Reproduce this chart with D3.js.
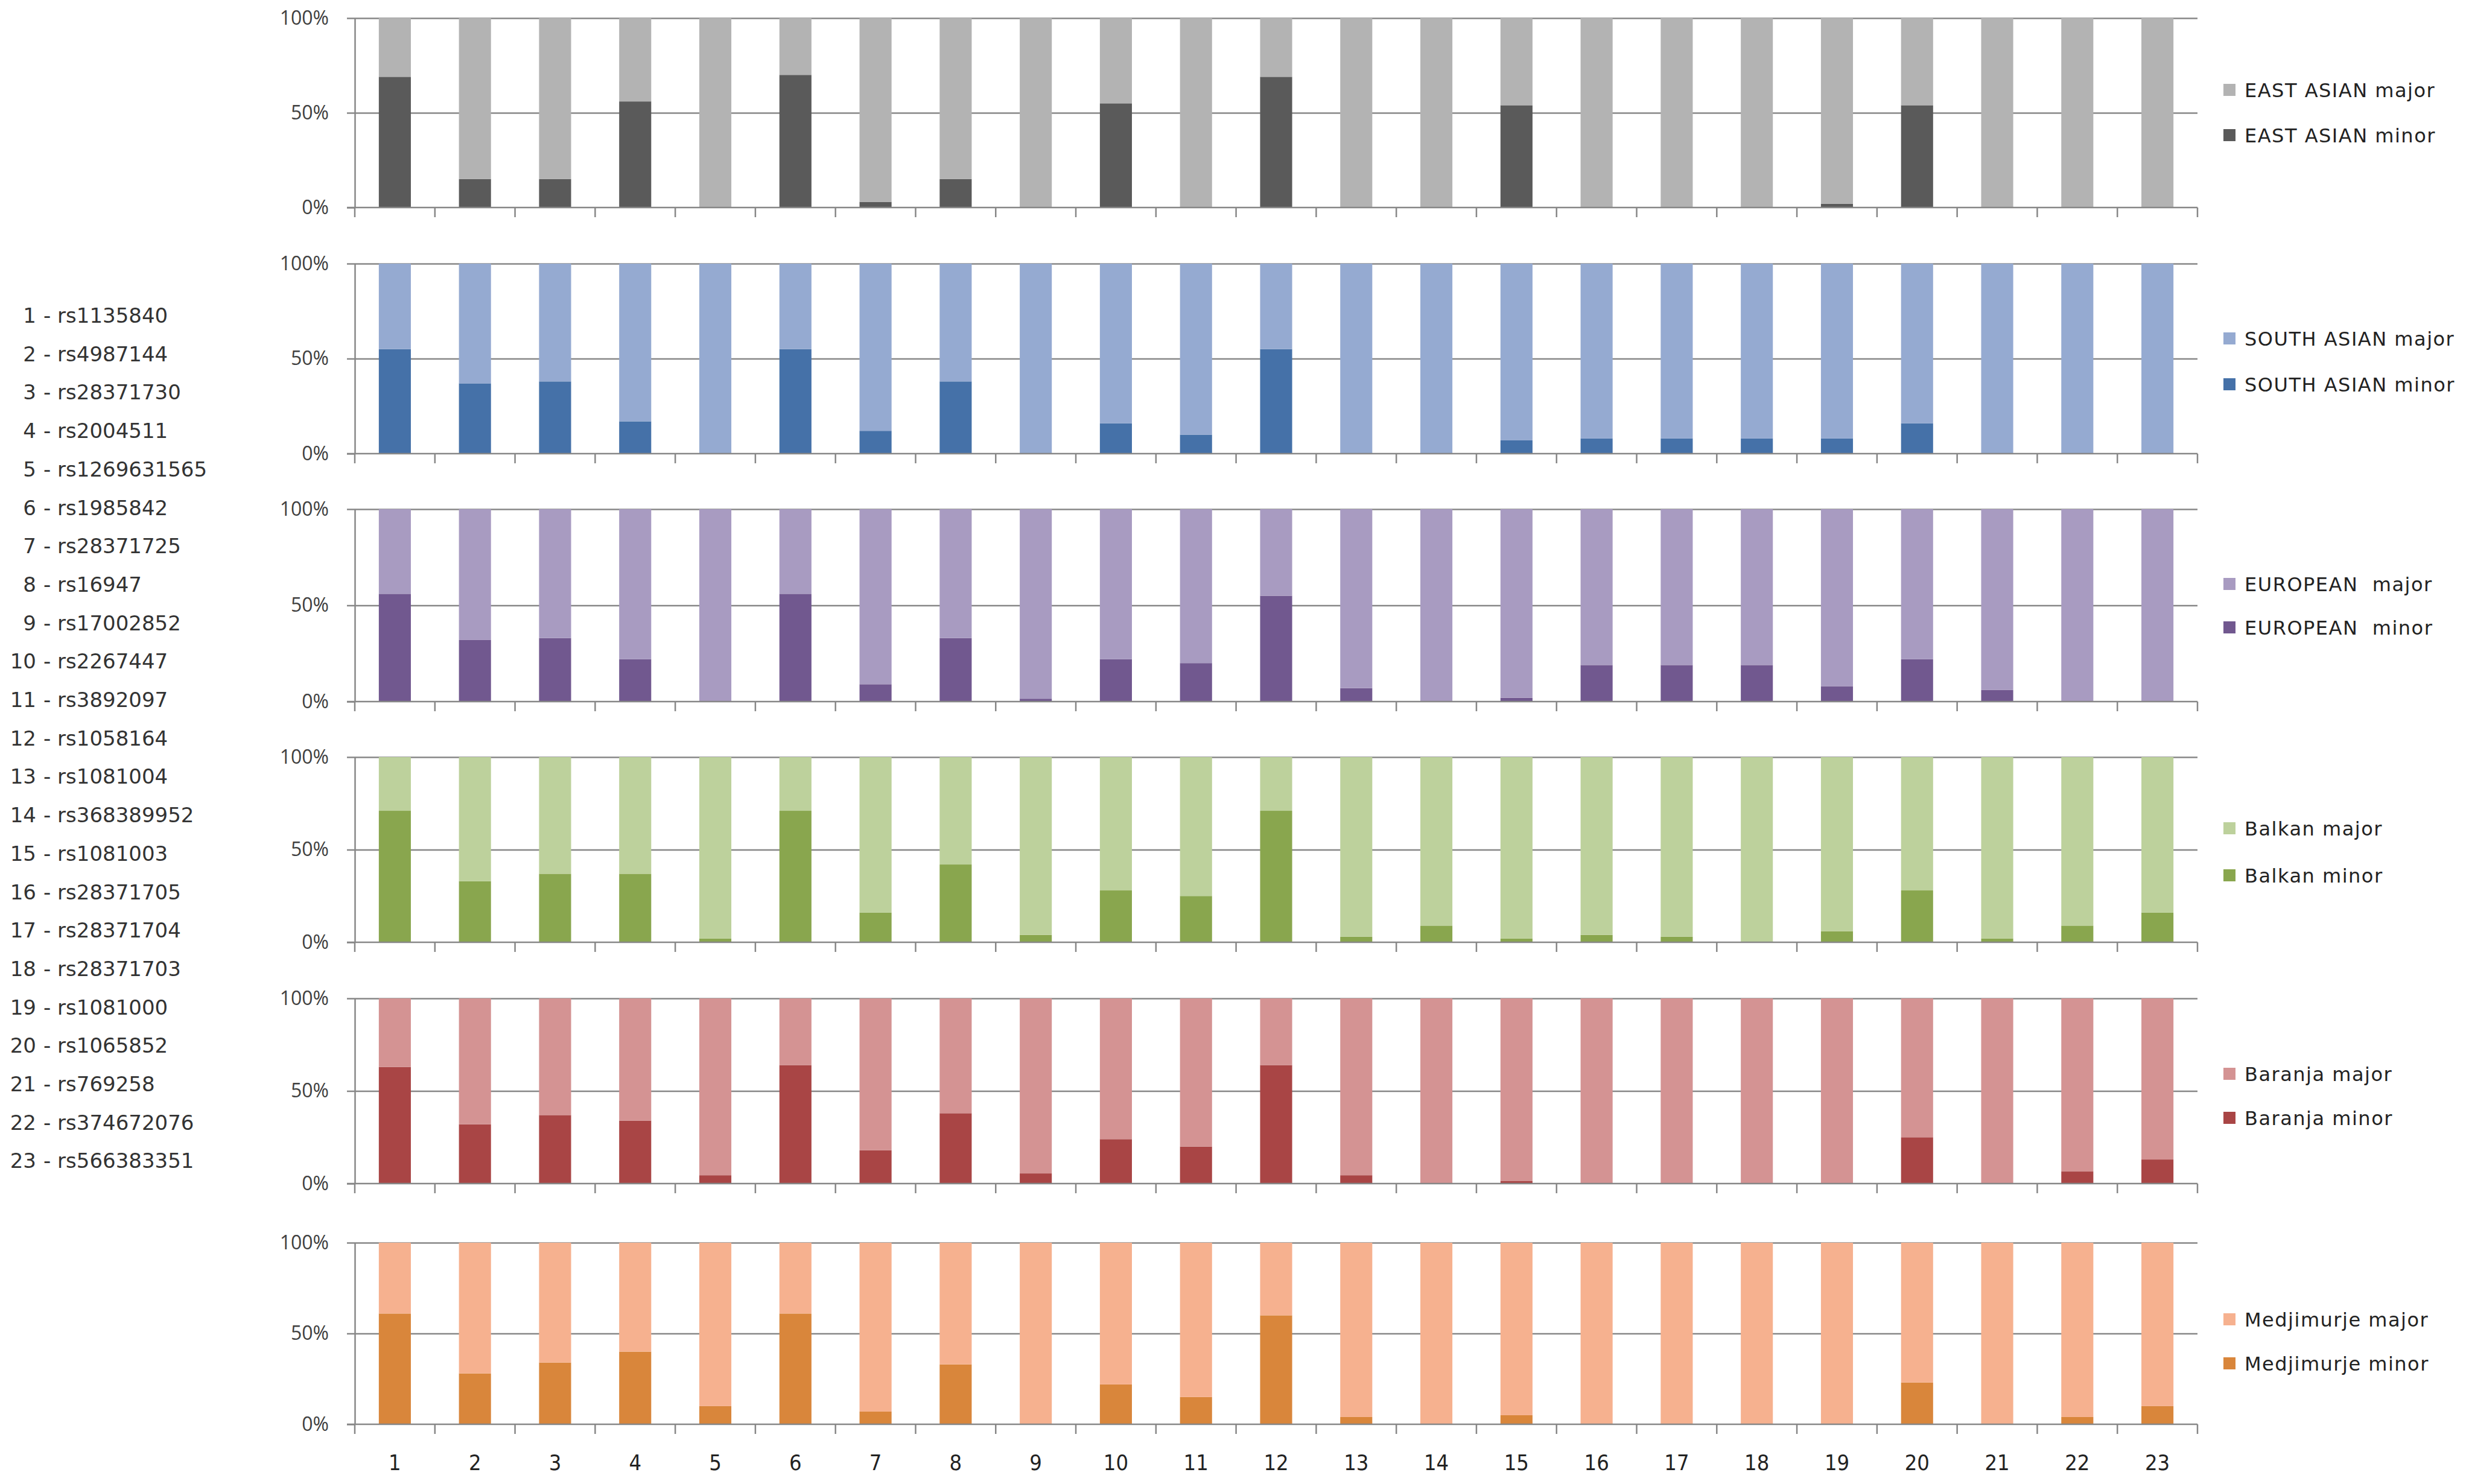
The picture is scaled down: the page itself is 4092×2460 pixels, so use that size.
<!DOCTYPE html>
<html>
<head>
<meta charset="utf-8">
<script src="https://cdn.jsdelivr.net/npm/d3@7"></script>
<style>
  body { margin: 0; background: #fff; }
  svg { display: block; }
</style>
</head>
<body>
<svg id="drawing_region"></svg>
<script>
const width = 4092;
const height = 2460;

// data
const categories = ["1", "2", "3", "4", "5", "6", "7", "8", "9", "10", "11", "12",
    "13", "14", "15", "16", "17", "18", "19", "20", "21", "22", "23"];
const snps = ["rs1135840", "rs4987144", "rs28371730", "rs2004511", "rs1269631565",
    "rs1985842", "rs28371725", "rs16947", "rs17002852", "rs2267447", "rs3892097",
    "rs1058164", "rs1081004", "rs368389952", "rs1081003", "rs28371705", "rs28371704",
    "rs28371703", "rs1081000", "rs1065852", "rs769258", "rs374672076", "rs566383351"];

const eastAsianMinor = [69, 15, 15, 56, 0, 70, 3, 15, 0, 55, 0, 69, 0, 0, 54, 0, 0, 0, 2, 54, 0, 0, 0];
const eastAsianMajor = [31, 85, 85, 44, 100, 30, 97, 85, 100, 45, 100, 31, 100, 100, 46, 100, 100, 100, 98, 46, 100, 100, 100];

const southAsianMinor = [55, 37, 38, 17, 0, 55, 12, 38, 0, 16, 10, 55, 0, 0, 7, 8, 8, 8, 8, 16, 0, 0, 0];
const southAsianMajor = [45, 63, 62, 83, 100, 45, 88, 62, 100, 84, 90, 45, 100, 100, 93, 92, 92, 92, 92, 84, 100, 100, 100];

const europeanMinor = [56, 32, 33, 22, 0, 56, 9, 33, 1.5, 22, 20, 55, 7, 0, 2, 19, 19, 19, 8, 22, 6, 0, 0];
const europeanMajor = [44, 68, 67, 78, 100, 44, 91, 67, 98.5, 78, 80, 45, 93, 100, 98, 81, 81, 81, 92, 78, 94, 100, 100];

const balkanMinor = [71, 33, 37, 37, 2, 71, 16, 42, 4, 28, 25, 71, 3, 9, 2, 4, 3, 0, 6, 28, 2, 9, 16];
const balkanMajor = [29, 67, 63, 63, 98, 29, 84, 58, 96, 72, 75, 29, 97, 91, 98, 96, 97, 100, 94, 72, 98, 91, 84];

const baranjaMinor = [63, 32, 37, 34, 4.5, 64, 18, 38, 5.5, 24, 20, 64, 4.5, 0, 1.5, 0, 0, 0, 0, 25, 0, 6.5, 13];
const baranjaMajor = [37, 68, 63, 66, 95.5, 36, 82, 62, 94.5, 76, 80, 36, 95.5, 100, 98.5, 100, 100, 100, 100, 75, 100, 93.5, 87];

const medjimurjeMinor = [61, 28, 34, 40, 10, 61, 7, 33, 0, 22, 15, 60, 4, 0, 5, 0, 0, 0, 0, 23, 0, 4, 10];
const medjimurjeMajor = [39, 72, 66, 60, 90, 39, 93, 67, 100, 78, 85, 40, 96, 100, 95, 100, 100, 100, 100, 77, 100, 96, 90];

const legendMajor = ["EAST ASIAN major", "SOUTH ASIAN major", "EUROPEAN  major",
    "Balkan major", "Baranja major", "Medjimurje major"];
const legendMinor = ["EAST ASIAN minor", "SOUTH ASIAN minor", "EUROPEAN  minor",
    "Balkan minor", "Baranja minor", "Medjimurje minor"];

// styles / layout
const majorColors = ["#b3b3b3", "#95aad1", "#a89bc1", "#bdd19c", "#d49393", "#f6b18f"];
const minorColors = ["#5a5a5a", "#4571a8", "#71588f", "#89a64e", "#a94545", "#d9863b"];
const panelTop = [30, 437, 844, 1255, 1655, 2060];
const panelBottom = [344, 752, 1163, 1562, 1962, 2361];
const legendY = [[149, 224], [561, 637], [968, 1040], [1373, 1451], [1780, 1853], [2187, 2260]];
const x0 = 588;
const x1 = 3642;
const axisColor = "#878787";

const minors = [eastAsianMinor, southAsianMinor, europeanMinor, balkanMinor, baranjaMinor, medjimurjeMinor];
const majors = [eastAsianMajor, southAsianMajor, europeanMajor, balkanMajor, baranjaMajor, medjimurjeMajor];

const svg = d3.select('#drawing_region')
    .attr('width', width)
    .attr('height', height);

svg.append("rect")
    .attr("width", width)
    .attr("height", height)
    .attr("fill", "#fff");

const xscale = d3.scaleBand()
    .domain(categories)
    .range([x0, x1])
    .paddingInner(0.6)
    .paddingOuter(0.3);

const boundaries = categories.map(c => xscale(c) - xscale.step() * xscale.paddingOuter()).concat([x1]);

minors.forEach((minor, p) => {
    const rows = categories.map((c, i) => ({ cat: c, minor: minor[i], major: majors[p][i] }));
    const series = d3.stack()
        .keys(["minor", "major"])
        .offset(d3.stackOffsetExpand)(rows);

    const yscale = d3.scaleLinear()
        .domain([0, 1])
        .range([panelBottom[p], panelTop[p]]);

    const g = svg.append("g");

    // gridlines
    g.append("g")
        .attr("transform", `translate(${x0},0)`)
        .call(d3.axisLeft(yscale).tickValues([0.5, 1]).tickSize(-(x1 - x0)).tickFormat(""))
        .call(a => a.select(".domain").remove())
        .selectAll("line")
        .attr("stroke", axisColor)
        .attr("stroke-width", 2.5);

    // bars
    const colors = { minor: minorColors[p], major: majorColors[p] };
    g.selectAll("g.series")
        .data(series)
        .join("g")
        .attr("class", "series")
        .attr("fill", d => colors[d.key])
        .selectAll("rect")
        .data(d => d)
        .join("rect")
        .attr("x", d => xscale(d.data.cat))
        .attr("y", d => yscale(d[1]))
        .attr("width", xscale.bandwidth())
        .attr("height", d => yscale(d[0]) - yscale(d[1]));

    // y axis
    g.append("g")
        .attr("transform", `translate(${x0},0)`)
        .call(d3.axisLeft(yscale)
            .tickValues([0, 0.5, 1])
            .tickFormat(d3.format(".0%"))
            .tickSize(13)
            .tickSizeOuter(0)
            .tickPadding(30))
        .call(a => a.selectAll("line, path").attr("stroke", axisColor).attr("stroke-width", 2.5))
        .call(a => a.selectAll("text")
            .attr("font-family", "'Open Sans', sans-serif")
            .attr("font-size", 32)
            .attr("fill", "#404040"));

    // x axis line with boundary ticks
    g.append("line")
        .attr("x1", x0 - 13)
        .attr("x2", x1)
        .attr("y1", yscale(0))
        .attr("y2", yscale(0))
        .attr("stroke", axisColor)
        .attr("stroke-width", 2.5);

    g.selectAll("line.btick")
        .data(boundaries)
        .join("line")
        .attr("class", "btick")
        .attr("x1", d => d)
        .attr("x2", d => d)
        .attr("y1", yscale(0))
        .attr("y2", yscale(0) + 16)
        .attr("stroke", axisColor)
        .attr("stroke-width", 2.5);

    // legend
    const legend = g.append("g")
        .attr("font-family", "'DejaVu Sans', sans-serif")
        .attr("font-size", 32)
        .attr("letter-spacing", 1.5)
        .attr("fill", "#222");
    [[legendMajor[p], majorColors[p]], [legendMinor[p], minorColors[p]]].forEach((item, k) => {
        legend.append("rect")
            .attr("x", 3685)
            .attr("y", legendY[p][k] - 10)
            .attr("width", 20)
            .attr("height", 20)
            .attr("fill", item[1]);
        legend.append("text")
            .attr("x", 3720)
            .attr("y", legendY[p][k])
            .attr("dy", "0.36em")
            .style("white-space", "pre")
            .text(item[0]);
    });
});

// category labels under the last panel
svg.append("g")
    .attr("transform", `translate(0,${panelBottom[5]})`)
    .call(d3.axisBottom(xscale).tickSize(0).tickPadding(50))
    .call(a => a.select(".domain").remove())
    .selectAll("text")
    .attr("font-family", "'Liberation Sans Narrow', 'DejaVu Sans Condensed', sans-serif")
    .attr("font-size", 36)
    .attr("fill", "#222");

// SNP list on the left
const list = svg.append("g")
    .attr("font-family", "'DejaVu Sans', sans-serif")
    .attr("font-size", 34)
    .attr("fill", "#333");

list.selectAll("text.num")
    .data(categories)
    .join("text")
    .attr("class", "num")
    .attr("x", 60)
    .attr("y", (d, i) => 535 + i * 63.7)
    .attr("text-anchor", "end")
    .text(d => d);

list.selectAll("text.snp")
    .data(snps)
    .join("text")
    .attr("class", "snp")
    .attr("x", 72)
    .attr("y", (d, i) => 535 + i * 63.7)
    .text(d => "- " + d);
</script>
</body>
</html>
